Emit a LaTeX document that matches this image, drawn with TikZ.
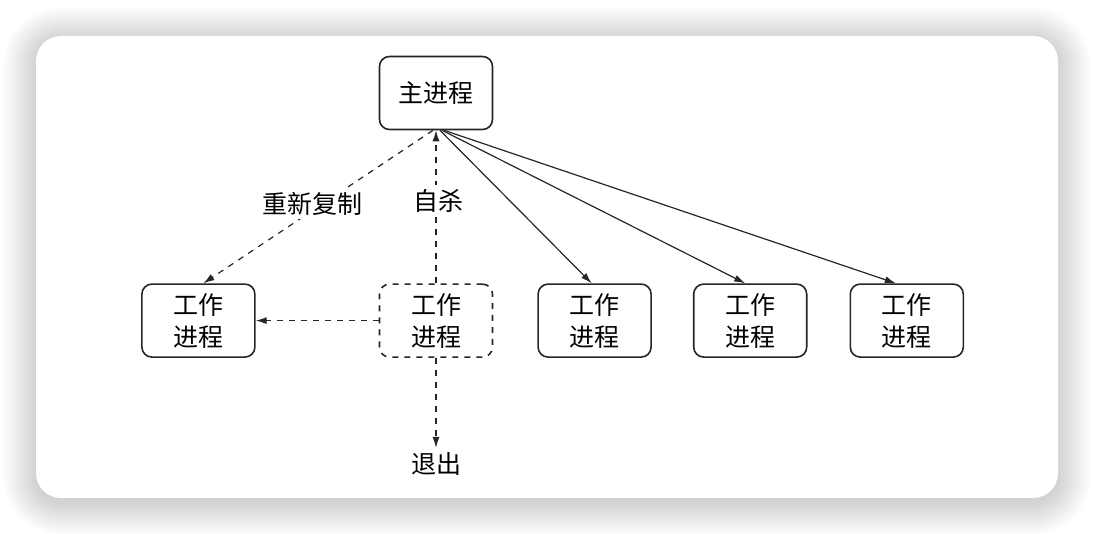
\documentclass[tikz,border=0pt]{standalone}
\usepackage{fontspec}
\setmainfont{Noto Sans CJK SC}
\usepackage{tikz}
\usetikzlibrary{positioning,arrows.meta}

\begin{document}
\begin{tikzpicture}[
    x=0.5pt, y=-0.5pt,
    proc/.style={
        draw=black!85,
        line width=0.8pt,
        rectangle,
        rounded corners=5pt,
        minimum width=56.5pt,
        minimum height=36.5pt,
        align=center,
        font=\fontsize{12.5pt}{16pt}\selectfont
    },
    lbl/.style={
        fill=white,
        inner sep=2pt,
        font=\fontsize{12.5pt}{16pt}\selectfont
    },
    link/.style={
        ->, line width=0.6pt, draw=black!85,
        >={Latex[length=5.5pt,width=3.5pt]}
    }
]

% card and its shadow
\useasboundingbox (0,0) rectangle (1094,534);
\foreach \i in {1,...,22}
    \fill[black, opacity=0.007, rounded corners=12.5pt+\i*0.75pt]
        (36-1.5*\i,36-1.5*\i+4) rectangle (1058+1.5*\i,498+1.5*\i+4);
\fill[white, rounded corners=12.5pt] (36,36) rectangle (1058,498);

\node[proc] (main) at (436,93) {主进程};
\node[proc, dashed, below=76.5pt of main] (self) {工作\\进程};
\node[proc, left=61.5pt of self] (w1) {工作\\进程};
\node[proc, right=22pt of self] (w3) {工作\\进程};
\node[proc, right=20.5pt of w3] (w4) {工作\\进程};
\node[proc, right=21pt of w4] (w5) {工作\\进程};
\node[lbl, below=45pt of self] (exit) {退出};

\draw[link, dashed] ([xshift=-1.5pt]main.south) -- node[lbl, pos=.48, xshift=-5pt] (respawn) {重新复制} ([xshift=2.5pt]w1.north);
\draw[link, dashed] (self.north) -- node[lbl, pos=.54, xshift=1pt] (suicide) {自杀} (main.south);
\draw[link, dashed] (self.west) -- (w1.east);
\draw[link, dashed] (self.south) -- (exit.north);
\draw[link] ([xshift=2pt]main.south) -- ([xshift=-1.5pt]w3.north);
\draw[link] ([xshift=3pt]main.south) -- ([xshift=-2.5pt]w4.north);
\draw[link] ([xshift=4pt]main.south) -- ([xshift=-5.5pt]w5.north);

\end{tikzpicture}
\end{document}
